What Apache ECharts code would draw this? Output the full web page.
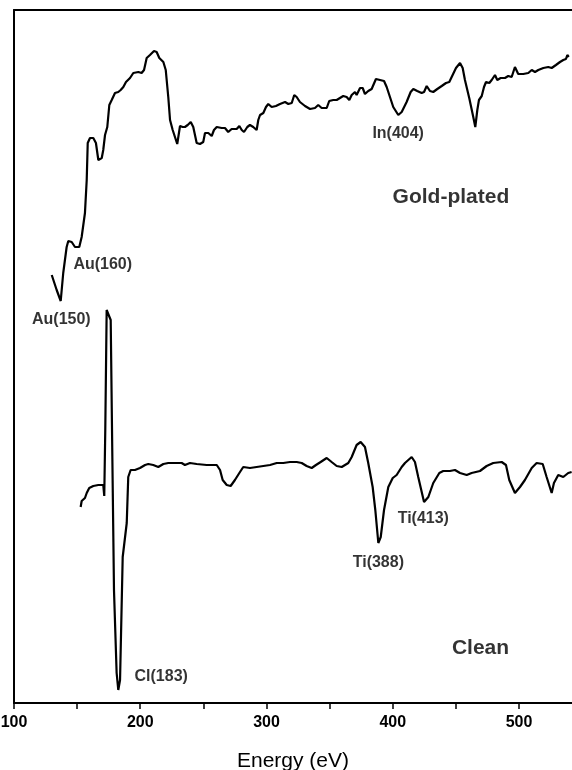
<!DOCTYPE html>
<html>
<head>
<meta charset="utf-8">
<script src="https://cdn.jsdelivr.net/npm/echarts@6/dist/echarts.min.js"></script>
<style>
html,body{margin:0;padding:0;background:#fff;}
#chart{width:572px;height:770px;}
</style>
</head>
<body>
<div id="chart"></div>
<script>
// Energy (eV) and intensity (arbitrary units)
const goldEnergy = [129.9,133.8,137.0,139.0,141.7,143.0,145.7,148.3,151.7,153.6,156.2,157.6,158.4,160.2,162.8,164.9,166.8,169.5,170.7,172.1,173.9,175.5,177.4,180.0,182.6,184.5,186.6,188.7,191.9,194.5,198.5,201.1,203.0,205.1,207.7,210.9,213.0,215.1,218.3,220.2,222.2,223.6,225.7,227.5,229.3,231.5,233.6,235.4,237.6,240.0,242.0,244.7,247.3,249.9,251.3,253.9,256.6,258.4,260.6,264.5,267.1,269.7,272.4,276.4,278.5,280.4,282.2,284.8,286.9,289.5,292.2,293.5,294.9,297.5,299.6,301.4,304.1,307.5,310.7,314.7,317.3,320.0,322.0,323.9,326.5,330.5,334.5,338.4,341.0,343.7,347.7,349.7,352.9,355.6,358.2,360.8,363.5,365.6,367.5,370.1,371.4,374.1,376.2,378.0,380.6,383.3,386.7,389.9,393.1,395.2,397.8,400.4,404.4,407.1,411.0,414.2,416.3,419.4,422.9,424.8,426.9,429.5,432.1,435.3,438.8,442.2,444.8,446.7,450.1,453.3,455.4,457.2,460.6,463.8,465.4,467.0,468.3,470.5,472.3,473.9,476.5,478.4,481.0,482.8,485.5,488.9,491.5,494.2,496.8,499.4,503.4,507.4,510.1,512.7,515.3,519.3,523.2,525.9,529.3,532.5,535.1,537.2,538.3,539.4];
const goldIntensity = [428,413,402,430,456,462,461,456,456,466,490,523,560,565,565,560,543,545,553,568,576,598,603,610,611,613,616,621,625,630,631,630,633,645,648,652,651,645,641,633,606,583,573,566,559,577,576,576,578,581,576,560,559,561,570,570,567,573,576,575,575,571,574,574,577,573,571,576,578,576,573,583,588,590,596,599,596,597,599,601,599,600,608,606,601,597,594,595,598,595,595,602,603,603,605,607,606,603,608,611,608,615,615,609,612,614,624,623,622,616,606,596,588,591,601,611,614,612,610,611,617,612,611,614,617,620,621,626,635,640,635,623,605,586,576,593,603,607,616,621,620,623,628,623,625,625,627,626,636,629,629,630,633,631,633,635,636,635,638,641,643,644,648,646];

const cleanEnergy = [152.8,153.6,156.2,157.6,159.6,162.8,166.8,170.7,171.5,172.3,173.4,174.7,176.6,177.9,179.2,181.3,182.6,184.0,186.1,189.3,190.5,192.4,195.8,199.8,203.8,206.4,210.3,214.3,218.3,222.2,228.9,232.8,235.4,239.4,244.7,252.6,260.6,263.2,265.3,268.5,271.6,275.0,279.0,281.6,286.9,292.2,297.5,302.8,308.1,313.3,318.6,323.9,327.9,331.8,335.8,339.2,342.9,347.7,351.6,355.6,359.6,364.8,367.5,371.4,374.6,378.0,380.6,384.1,386.2,388.6,390.5,393.1,396.5,400.0,403.1,407.1,409.7,415.0,417.6,420.2,424.8,428.2,432.1,436.9,440.0,445.3,449.3,453.3,458.6,462.5,469.1,474.4,479.6,486.3,489.7,492.3,496.8,500.8,504.7,510.1,514.0,518.8,521.9,525.9,527.7,531.1,535.1,539.0,541.7];
const cleanIntensity = [196,202,205,210,215,217,218,218,207,273,393,394,383,246,113,30,13,23,146,180,226,233,233,235,238,239,238,236,239,240,240,240,238,240,239,238,238,233,223,218,217,223,231,236,235,236,237,238,240,240,241,241,240,237,235,238,241,245,241,237,236,240,246,258,261,256,240,216,193,160,166,193,216,225,228,236,240,246,241,226,201,206,220,230,232,232,233,230,228,230,232,237,240,241,238,223,210,216,223,235,240,239,226,210,220,228,226,230,231];

// Annotations (text, energy, intensity position of label centre, font size)
const annoText   = ['Au(160)','Au(150)','In(404)','Gold-plated','Cl(183)','Ti(388)','Ti(413)','Clean'];
const annoEnergy = [170.3, 137.5, 404.3, 446.1, 216.6, 388.6, 424.2, 469.5];
const annoValue  = [438, 383, 569, 506, 26, 140, 184, 55];
const annoSize   = [16, 16, 16, 21, 16, 16, 16, 21];

const xTicks = [100,200,300,400,500];

const ink = '#000';
const font = "'Liberation Sans', Arial, Helvetica, sans-serif";

const chart = echarts.init(document.getElementById('chart'), null, {renderer:'canvas'});

const toPairs = (xs, ys) => xs.map((x,i)=>[x, ys[i]]);

chart.setOption({
  animation:false,
  backgroundColor:'#fff',
  grid:{left:14, right:0, top:10, bottom:67, containLabel:false, outerBoundsMode:'none'},
  xAxis:[{
    type:'value', min:100, max:542, interval:50,
    name:'Energy (eV)', nameLocation:'middle', nameGap:48,
    nameTextStyle:{color:ink, fontSize:21, fontFamily:font},
    axisLine:{show:true, onZero:false, lineStyle:{color:ink, width:2}},
    axisTick:{show:true, inside:false, length:6, lineStyle:{color:ink, width:1.5}},
    axisLabel:{show:true, margin:12, color:ink, fontSize:16, fontWeight:'bold', fontFamily:font,
      showMaxLabel:false,
      formatter:(v)=> xTicks.indexOf(v) >= 0 ? String(v) : ''},
    splitLine:{show:false}
  },{
    type:'value', position:'top', min:100, max:542,
    axisLine:{show:true, onZero:false, lineStyle:{color:ink, width:2}},
    axisTick:{show:false}, axisLabel:{show:false}, splitLine:{show:false}
  }],
  yAxis:{
    type:'value', min:0, max:693,
    axisLine:{show:true, onZero:false, lineStyle:{color:ink, width:2}},
    axisTick:{show:false}, axisLabel:{show:false}, splitLine:{show:false}
  },
  series:[
    {type:'line', name:'Gold-plated', data:toPairs(goldEnergy, goldIntensity),
     showSymbol:false, symbol:'none', smooth:false,
     lineStyle:{color:ink, width:2.2}, z:3},
    {type:'line', name:'Clean', data:toPairs(cleanEnergy, cleanIntensity),
     showSymbol:false, symbol:'none', smooth:false,
     lineStyle:{color:ink, width:2.2}, z:3},
    {type:'scatter', silent:true, symbolSize:1,
     itemStyle:{color:'rgba(0,0,0,0)'},
     data: annoText.map((t,i)=>({
       value:[annoEnergy[i], annoValue[i]],
       label:{show:true, position:'inside', formatter:t, color:ink,
              fontSize:annoSize[i], fontWeight:'bold', fontFamily:font}
     })), z:5}
  ]
});
</script>
</body>
</html>
